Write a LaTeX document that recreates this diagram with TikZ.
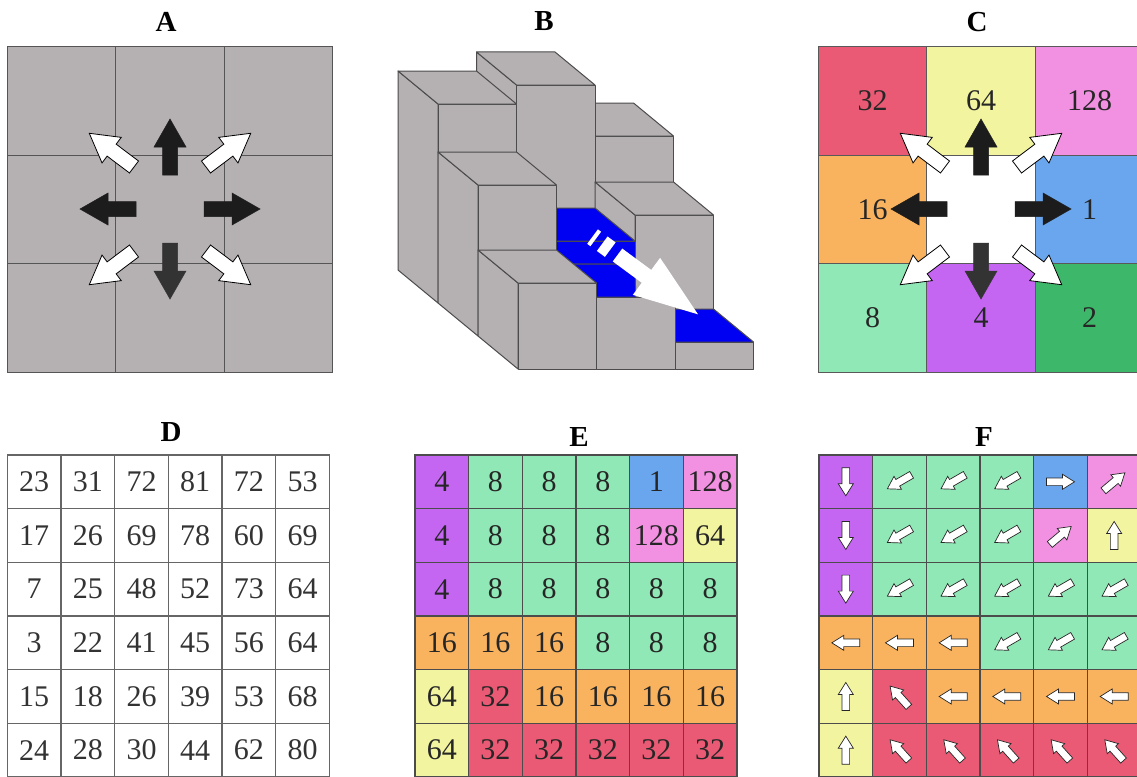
\documentclass[tikz,border=0pt]{standalone}
\usepackage{fontspec}
\setmainfont{Liberation Serif}

\definecolor{rockgray}{HTML}{B5B0B1}
\definecolor{gridline}{HTML}{555555}
\definecolor{darkarrow}{HTML}{1C1C1C}
\definecolor{water}{HTML}{0000F2}
% flow direction codes
\definecolor{code0}{HTML}{FFFFFF}
\definecolor{code1}{HTML}{6AA6EE}
\definecolor{code2}{HTML}{3DB86A}
\definecolor{code4}{HTML}{C466F2}
\definecolor{code8}{HTML}{8FE8B5}
\definecolor{code16}{HTML}{F9B25E}
\definecolor{code32}{HTML}{EA5A74}
\definecolor{code64}{HTML}{F2F4A0}
\definecolor{code128}{HTML}{F290E1}

% angle of the arrow for each code
\pgfkeys{/flowdir/.cd, 1/.initial=0, 2/.initial=-40, 4/.initial=-90, 8/.initial=210,
  16/.initial=180, 32/.initial=132, 64/.initial=90, 128/.initial=40}

\newcommand{\bigarrow}[1]{\filldraw[#1] (0,-7.5) -- (28,-7.5) -- (28,-16) -- (56,0) -- (28,16) -- (28,7.5) -- (0,7.5) -- cycle;}
\newcommand{\smallarrow}[1]{\filldraw[#1] (-14,-3.8) -- (2,-3.8) -- (2,-7.5) -- (14,0) -- (2,7.5) -- (2,3.8) -- (-14,3.8) -- cycle;}
% one column of the block model: col, row (0 = back), height, top fill, front fill
\newcommand{\stackcol}[5]{%
  \filldraw[face] (#1,0,#2) -- (#1,0,#2+1) -- (#1,#3,#2+1) -- (#1,#3,#2) -- cycle;
  \filldraw[face, fill=#5] (#1,0,#2+1) -- (#1+1,0,#2+1) -- (#1+1,#3,#2+1) -- (#1,#3,#2+1) -- cycle;
  \filldraw[face, fill=#4] (#1,#3,#2) -- (#1+1,#3,#2) -- (#1+1,#3,#2+1) -- (#1,#3,#2+1) -- cycle;}

\begin{document}
\begin{tikzpicture}[x=1pt, y=-1pt,
    title/.style={font=\fontsize{29}{34}\selectfont\bfseries},
    num/.style={font=\fontsize{30}{36}\selectfont, text=black!85},
    tcell/.style={draw=gridline, line width=1.4pt, fill=rockgray, minimum size=108.5pt, inner sep=0pt},
    ccell/.style={draw=black!65, line width=1pt, minimum size=108.5pt, inner sep=0pt, num},
    gcell/.style={draw=black!70, line width=1.2pt, minimum size=53.67pt, inner sep=0pt, num},
    face/.style={fill=rockgray, draw=black!70, line width=1pt, line join=round},
    darrow/.style={fill=darkarrow, draw=darkarrow, line width=0.5pt},
    warrow/.style={fill=white, draw=black, line width=0.8pt, line join=miter},
    sarrow/.style={fill=white, draw=black!85, line width=0.7pt}]
    \useasboundingbox (0,0) rectangle (1137,776);
    \fill[white] (0,0) rectangle (1137,776);
    \clip (0,0) rectangle (1137,776);

    % Titles
    \node[title] (titleA) at (166,22) {A};
    \node[title] (titleB) at (544,21) {B};
    \node[title] (titleC) at (977,22) {C};
    \node[title] (titleD) at (171,432) {D};
    \node[title] (titleE) at (579,437) {E};
    \node[title] (titleF) at (984,437) {F};

    % 3x3 window of terrain cells
    \foreach \r in {0,1,2}
    \foreach \c in {0,1,2}
    \node[tcell] (A-\r-\c) at ({61.5+108.5*\c},{101+108.5*\r}) {};

    % Window with the direction codes
    \foreach \row [count=\r from 0] in {{32,64,128},{16,0,1},{8,4,2}}
    \foreach \v [count=\c from 0] in \row
    \node[ccell, fill=code\v] (C-\r-\c) at ({872.5+108.5*\c},{101+108.5*\r}) {\ifnum\v>0 \v\fi};

    % Eight neighbour moves
    \foreach \cx in {170,981} {
        \bigarrow{darrow, shift={(\cx,175)}, rotate=90}
        \bigarrow{darrow, shift={(\cx+34,209)}, rotate=0}
        \bigarrow{darrow, shift={(\cx-34,209)}, rotate=180}
        \bigarrow{darrow, fill=black!80, draw=black!80, shift={(\cx,243)}, rotate=-90}
        \bigarrow{warrow, shift={(\cx+36,167)}, rotate=37}
        \bigarrow{warrow, shift={(\cx-36,167)}, rotate=143}
        \bigarrow{warrow, shift={(\cx-36,251)}, rotate=217}
        \bigarrow{warrow, shift={(\cx+36,251)}, rotate=-37}
    }

    % Block model, drawn back to front and right to left
    \begin{scope}[shift={(398,270)}, x={(78.5pt,0pt)}, y={(0pt,1pt)}, z={(40pt,-33pt)}]
        \stackcol{2}{0}{167}{rockgray}{rockgray}
        \stackcol{1}{0}{218}{rockgray}{rockgray}
        \stackcol{0}{0}{199}{rockgray}{rockgray}
        \stackcol{2}{1}{121}{rockgray}{rockgray}
        \stackcol{1}{1}{95}{water}{water}
        \stackcol{0}{1}{151}{rockgray}{rockgray}
        \stackcol{2}{2}{27}{water}{rockgray}
        \stackcol{1}{2}{72}{rockgray}{rockgray}
        \filldraw[face, fill=water] (1,72,2) -- (2,72,2) -- (1.5,72,3) -- (1,72,3) -- cycle;
        \stackcol{0}{2}{86}{rockgray}{rockgray}
    \end{scope}
    % Flow arrow
    \fill[white, shift={(617.5,255)}, rotate=-36.4]
        (0,-8) -- (36,-8) -- (36,-23) -- (100,0) -- (36,23) -- (36,8) -- (0,8) -- cycle
        (-31,-9) rectangle (-27,9)
        (-19,-9) rectangle (-9,9);

    % Elevation grid
    \foreach \row [count=\r from 0] in {{23,31,72,81,72,53},{17,26,69,78,60,69},{7,25,48,52,73,64},
        {3,22,41,45,56,64},{15,18,26,39,53,68},{24,28,30,44,62,80}}
    \foreach \v [count=\c from 0] in \row
    \node[gcell, draw=black!60, fill=white, text=black!80] (D-\r-\c) at ({34.2+53.67*\c},{481.8+53.67*\r}) {\v};

    % Flow direction grid, as codes and as arrows
    \foreach \row [count=\r from 0] in {{4,8,8,8,1,128},{4,8,8,8,128,64},{4,8,8,8,8,8},
        {16,16,16,8,8,8},{64,32,16,16,16,16},{64,32,32,32,32,32}}
    \foreach \v [count=\c from 0] in \row {
        \node[gcell, fill=code\v] (E-\r-\c) at ({441.8+53.67*\c},{481.8+53.67*\r}) {\v};
        \node[gcell, fill=code\v] (F-\r-\c) at ({845.8+53.67*\c},{481.8+53.67*\r}) {};
        \smallarrow{sarrow, shift={(F-\r-\c)}, rotate=\pgfkeysvalueof{/flowdir/\v}}
    }
\end{tikzpicture}
\end{document}
